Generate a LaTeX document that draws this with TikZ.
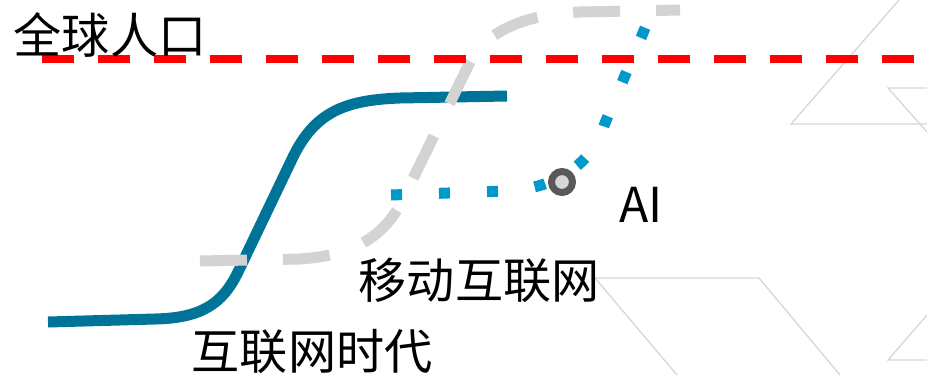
\documentclass[tikz,border=0pt]{standalone}
\usepackage{fontspec}
\setmainfont{Noto Sans CJK SC}
\usetikzlibrary{positioning}
\definecolor{netblue}{RGB}{0,115,152}
\definecolor{mobgray}{RGB}{211,211,211}
\definecolor{aiblue}{RGB}{0,153,204}
\definecolor{ringgray}{RGB}{89,89,89}
\definecolor{hexgray}{RGB}{214,214,214}

\begin{document}
\begin{tikzpicture}[x=0.1mm,y=-0.1mm,
	lbl/.style={inner sep=0pt,anchor=west,font=\fontsize{13.7pt}{16pt}\selectfont},
	hexline/.style={draw=hexgray,line width=0.13mm},
	trend/.style={line width=1.1mm,line join=round}]
	\useasboundingbox (0,0) rectangle (927,375);
	\draw[hexline] (899,0) -- (791,124) -- (927,124);
	\draw[hexline] (927,132) -- (888,88) -- (927,88);
	\draw[hexline] (677,375) -- (595,278) -- (759,278) -- (840,375);
	\draw[hexline] (927,315) -- (888,360) -- (927,360);
	\draw[trend,netblue] (48,322) -- (155,319) .. controls (200,318) and (222,305) .. (238,272)
		-- (293,157) .. controls (315,112) and (345,100) .. (400,98) -- (507,96);
	\draw[trend,mobgray,dash pattern=on 4.7mm off 3.6mm] (200,261) -- (300,259)
		.. controls (360,255) and (388,232) .. (405,195) -- (470,62)
		.. controls (485,32) and (525,14) .. (580,12) -- (680,10);
	\coordinate (popl) at (42,59);
	\coordinate (popr) at (914,59);
	\draw[red,line width=0.8mm,dash pattern=on 3.2mm off 2.4mm] (popl) -- (popr);
	\draw[trend,aiblue,dash pattern=on 1.1mm off 3.7mm] (391,195) -- (505,191)
		.. controls (555,189) and (592,165) .. (605,123) -- (648,21);
	\node[circle,draw=ringgray,fill=hexgray,line width=0.7mm,minimum size=2.1mm,inner sep=0pt] (aimark) at (562,182) {};
	\node[lbl] (pop) at (13,35) {全球人口};
	\node[lbl] (ai) at (619,205) {AI};
	\node[lbl] (mobile) at (358,280) {移动互联网};
	\node[lbl] (internet) at (191,352) {互联网时代};
\end{tikzpicture}
\end{document}
